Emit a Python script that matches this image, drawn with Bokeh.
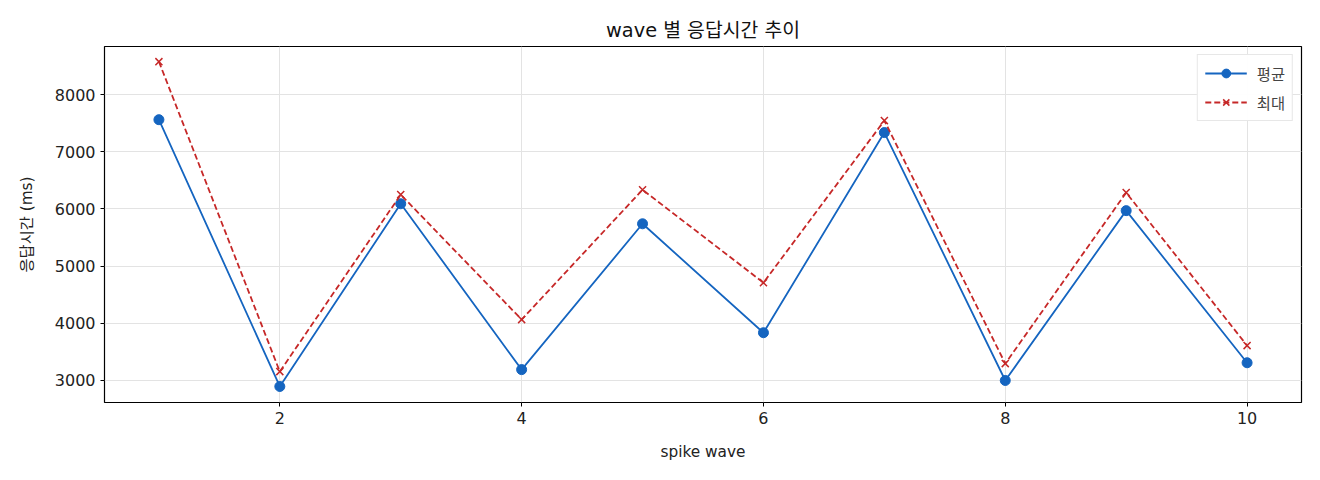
from bokeh.plotting import figure
from bokeh.models import Range1d, FixedTicker, Legend, LegendItem
from bokeh.embed import file_html
from bokeh.resources import INLINE

FONT = "DejaVu Sans, Noto Sans CJK KR"

waves = [1, 2, 3, 4, 5, 6, 7, 8, 9, 10]
avg_ms = [7560, 2895, 6090, 3190, 5740, 3835, 7335, 3000, 5970, 3310]
max_ms = [8575, 3155, 6250, 4065, 6335, 4710, 7545, 3295, 6285, 3610]

x_ticks = [2, 4, 6, 8, 10]
y_ticks = [3000, 4000, 5000, 6000, 7000, 8000]

p = figure(width=1304, height=464,
           x_range=Range1d(0.55, 10.45), y_range=Range1d(2615, 8840),
           output_backend="svg", toolbar_location=None,
           title="wave 별 응답시간 추이")
p.frame_width = 1197
p.frame_height = 356
p.min_border_left = 104
p.min_border_right = 3
p.min_border_top = 46
p.min_border_bottom = 62

p.title.align = "center"
p.title.text_font = FONT
p.title.text_font_size = "14.5pt"
p.title.text_font_style = "normal"
p.title.text_color = "#111111"
p.title.standoff = 9

p.outline_line_color = "black"
p.outline_line_width = 1.2

for ax in (p.xaxis, p.yaxis):
    ax.axis_line_color = None
    ax.major_tick_in = 0
    ax.major_tick_out = 4
    ax.minor_tick_line_color = None
    ax.major_label_text_font = FONT
    ax.major_label_text_font_size = "12pt"
    ax.major_label_text_color = "#222222"
    ax.axis_label_text_font = FONT
    ax.axis_label_text_font_size = "11.5pt"
    ax.axis_label_text_font_style = "normal"
    ax.axis_label_text_color = "#222222"

p.xaxis.ticker = FixedTicker(ticks=x_ticks)
p.yaxis.ticker = FixedTicker(ticks=y_ticks)
p.xaxis.axis_label = "spike wave"
p.yaxis.axis_label = "응답시간 (ms)"
p.xaxis.axis_label_standoff = 16
p.yaxis.axis_label_standoff = 16

p.xgrid.grid_line_color = "#e3e3e3"
p.ygrid.grid_line_color = "#e3e3e3"

blue = "#1565c0"
red = "#c62828"

l1 = p.line(waves, avg_ms, line_color=blue, line_width=1.8)
c1 = p.scatter(waves, avg_ms, size=10, marker="circle", fill_color=blue, line_color=blue)
l2 = p.line(waves, max_ms, line_color=red, line_width=1.8, line_dash="6 3")
c2 = p.scatter(waves, max_ms, size=10, marker="x", line_color=red, line_width=1.5)

legend = Legend(items=[LegendItem(label="평균", renderers=[l1, c1]),
                       LegendItem(label="최대", renderers=[l2, c2])],
                location="top_right")
legend.label_text_font = FONT
legend.label_text_font_size = "11.5pt"
legend.border_line_color = "#d0d0d0"
legend.margin = 8
legend.padding = 7
legend.spacing = 7
legend.label_height = 22
legend.glyph_height = 22
legend.glyph_width = 42
legend.label_standoff = 10
p.add_layout(legend)

open("out.html", "w").write(file_html(p, INLINE))
